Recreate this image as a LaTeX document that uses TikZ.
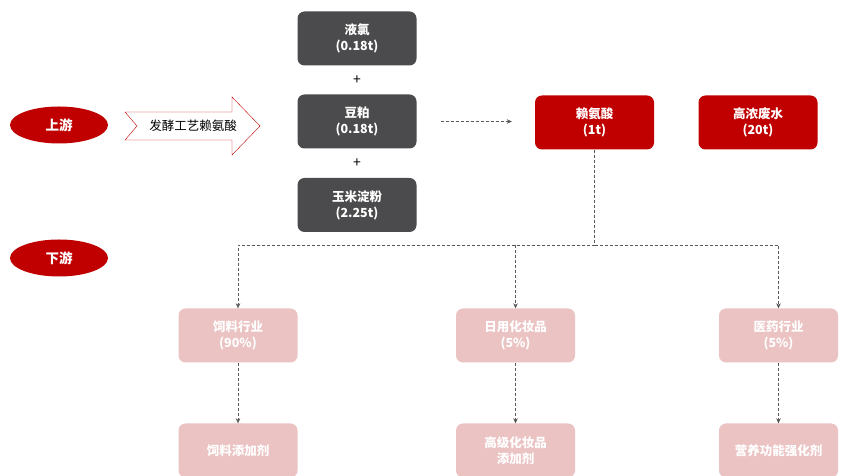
\documentclass[tikz,border=0pt]{standalone}
\usepackage{fontspec}
\setmainfont{Noto Sans CJK SC}
\usetikzlibrary{arrows.meta,shapes.geometric}
\definecolor{darkbox}{HTML}{4B4B4D}
\definecolor{redbox}{HTML}{C00000}
\definecolor{pinkbox}{HTML}{EBC3C3}
\definecolor{lineg}{HTML}{595959}

\begin{document}
\begin{tikzpicture}[x=1pt,y=1pt,
  box/.style={rounded corners=7pt, minimum width=119pt, minimum height=54pt, align=center,
    text=white, font=\fontsize{12.5}{16}\selectfont\bfseries, inner sep=0pt},
  rawbox/.style={box, fill=darkbox},
  mainbox/.style={box, fill=redbox},
  usebox/.style={box, fill=pinkbox},
  stage/.style={ellipse, fill=redbox, minimum width=98pt, minimum height=37pt, inner sep=0pt,
    text=white, font=\fontsize{13.5}{16}\selectfont\bfseries},
  link/.style={lineg, thin, dash pattern=on 3pt off 2pt, -{Stealth[length=5pt,width=4.5pt]}}]
\clip (0,0) rectangle (862,476);
\fill[white] (0,0) rectangle (862,476);
\node[stage] (up) at (59,351) {上游};
\node[stage] (down) at (59,218) {下游};
\draw[redbox, thin, fill=white] (125,364) -- (232,364) -- (232,379) -- (260,350) -- (232,321)
  -- (232,336) -- (125,336) -- (137,350) -- cycle;
\node[font=\fontsize{12.5}{16}\selectfont] (proc) at (193,350) {发酵工艺赖氨酸};
\node[rawbox] (ammonia) at (357,437.5) {液氯\\(0.18t)};
\node[rawbox] (soy) at (357,354.5) {豆粕\\(0.18t)};
\node[rawbox] (corn) at (357,271) {玉米淀粉\\(2.25t)};
\node[font=\fontsize{14}{16}\selectfont] (plusa) at (357,396) {+};
\node[font=\fontsize{14}{16}\selectfont] (plusb) at (357,313) {+};
\node[mainbox] (lys) at (594.5,353.5) {赖氨酸\\(1t)};
\node[mainbox] (waste) at (758,353.5) {高浓废水\\(20t)};
\draw[link, shorten <=24pt, shorten >=23pt] (soy.east) -- (soy.east -| lys.west);
\node[usebox] (feed) at (238,140.5) {饲料行业\\(90\%)};
\node[usebox] (cosm) at (515.5,140.5) {日用化妆品\\(5\%)};
\node[usebox] (med) at (778.5,140.5) {医药行业\\(5\%)};
\node[usebox] (feedadd) at (238,25.5) {饲料添加剂};
\node[usebox] (cosmadd) at (515.5,25.5) {高级化妆品\\添加剂};
\node[usebox] (nutr) at (778.5,25.5) {营养功能强化剂};
\coordinate (split) at (lys.south |- 0,231);
\draw[lineg, thin, dash pattern=on 3pt off 2pt] (lys.south) -- (split);
\draw[link] (split) -| (feed.north);
\draw[link] (split) -| (med.north);
\draw[link] (cosm.north |- split) -- (cosm.north);
\draw[link] (feed.south) -- (feedadd.north);
\draw[link] (cosm.south) -- (cosmadd.north);
\draw[link] (med.south) -- (nutr.north);
\end{tikzpicture}
\end{document}
